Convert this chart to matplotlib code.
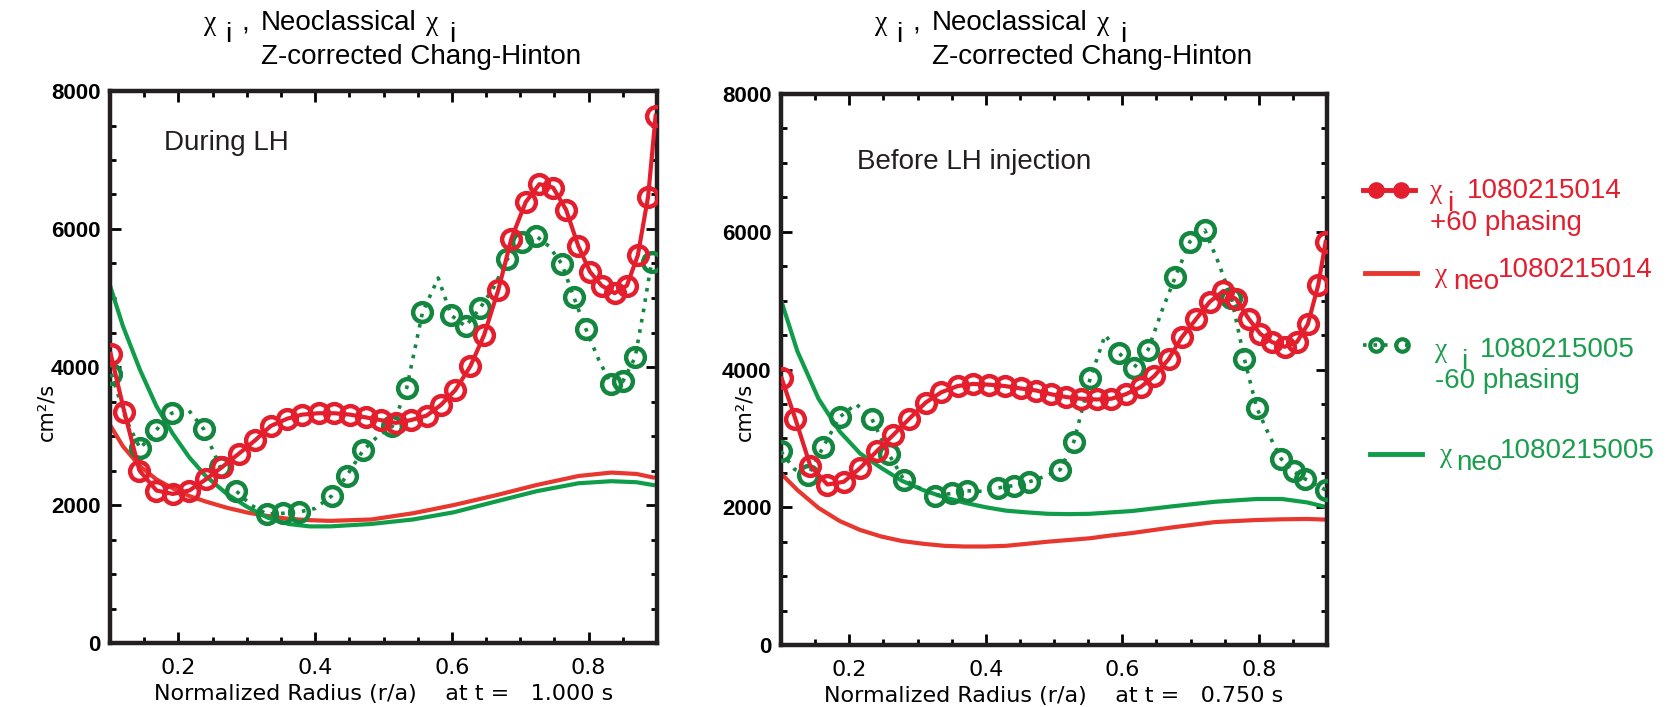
import numpy as np
import matplotlib
matplotlib.use("Agg")
import matplotlib.pyplot as plt
from matplotlib.ticker import MultipleLocator

plt.rcParams['font.family'] = ['Liberation Sans', 'DejaVu Sans']

RED = '#e41e2c'
RED_NEO = '#e8372f'
GRN = '#13873f'
GRN_NEO = '#0f9d4a'

# radial grid of the measured chi_i profiles
r_grid = [0.101, 0.121, 0.143, 0.168, 0.192, 0.216, 0.240, 0.264, 0.288, 0.312,
          0.335, 0.359, 0.381, 0.405, 0.428, 0.451, 0.474, 0.496, 0.518, 0.540,
          0.563, 0.584, 0.605, 0.627, 0.647, 0.668, 0.687, 0.708, 0.728, 0.748,
          0.767, 0.785, 0.802, 0.819, 0.838, 0.856, 0.872, 0.887, 0.898]

# ---- t = 1.000 s (during LH) ----
chi_014_a = [4190, 3350, 2500, 2210, 2160, 2210, 2370, 2550, 2740, 2935,
             3145, 3250, 3310, 3330, 3330, 3310, 3270, 3230, 3190, 3230,
             3295, 3450, 3665, 4010, 4460, 5120, 5860, 6390, 6650, 6600,
             6280, 5750, 5380, 5180, 5070, 5180, 5620, 6470, 7640]

r_005_a = [0.102, 0.123, 0.144, 0.167, 0.190, 0.213, 0.237, 0.261, 0.284, 0.306,
           0.329, 0.353, 0.377, 0.400, 0.424, 0.446, 0.470, 0.492, 0.513, 0.534,
           0.557, 0.580, 0.599, 0.620, 0.641, 0.661, 0.681, 0.702, 0.723, 0.742,
           0.761, 0.778, 0.796, 0.815, 0.833, 0.850, 0.868, 0.880, 0.892]
chi_005_a = [3900, 3250, 2820, 3080, 3330, 3400, 3100, 2550, 2210, 2000,
             1870, 1880, 1900, 1950, 2130, 2420, 2790, 3000, 3140, 3700,
             4790, 5290, 4750, 4590, 4850, 5150, 5560, 5810, 5900, 5750,
             5490, 5020, 4550, 4100, 3750, 3790, 4140, 4800, 5520]

r_neo_a = [0.100, 0.119, 0.144, 0.168, 0.192, 0.216, 0.240, 0.271, 0.301, 0.331,
           0.361, 0.392, 0.422, 0.482, 0.543, 0.603, 0.664, 0.724, 0.785, 0.833,
           0.870, 0.894]
neo_014_a = [3160, 2850, 2560, 2370, 2240, 2130, 2050, 1960, 1890, 1840,
             1800, 1780, 1770, 1790, 1880, 2000, 2140, 2290, 2420, 2470,
             2450, 2400]
neo_005_a = [5180, 4590, 3955, 3430, 3030, 2690, 2420, 2160, 1970, 1815,
             1725, 1690, 1690, 1725, 1790, 1895, 2050, 2200, 2315, 2345,
             2330, 2290]

# ---- t = 0.750 s (before LH) ----
chi_014_b = [3870, 3285, 2600, 2330, 2370, 2570, 2810, 3045, 3285, 3520,
             3670, 3760, 3790, 3780, 3760, 3725, 3695, 3640, 3600, 3575,
             3565, 3575, 3640, 3745, 3905, 4150, 4465, 4730, 4980, 5140,
             5020, 4740, 4520, 4400, 4330, 4400, 4660, 5220, 5850]

r_005_b = [0.100, 0.120, 0.140, 0.162, 0.186, 0.210, 0.233, 0.258, 0.280, 0.303,
           0.326, 0.350, 0.372, 0.395, 0.418, 0.441, 0.464, 0.487, 0.509, 0.529,
           0.553, 0.575, 0.595, 0.617, 0.638, 0.658, 0.678, 0.699, 0.721, 0.741,
           0.760, 0.779, 0.797, 0.815, 0.833, 0.851, 0.868, 0.884, 0.898]
chi_005_b = [2810, 2550, 2465, 2880, 3310, 3500, 3285, 2770, 2400, 2280,
             2170, 2200, 2240, 2230, 2280, 2315, 2370, 2450, 2545, 2950,
             3870, 4500, 4240, 4025, 4290, 4850, 5350, 5855, 6025, 5550,
             5035, 4150, 3445, 3050, 2700, 2520, 2410, 2330, 2250]

r_neo_b = [0.100, 0.124, 0.155, 0.186, 0.216, 0.247, 0.277, 0.308, 0.339, 0.369,
           0.400, 0.430, 0.461, 0.491, 0.522, 0.553, 0.583, 0.614, 0.675, 0.736,
           0.797, 0.834, 0.871, 0.900]
neo_014_b = [2490, 2250, 1990, 1800, 1670, 1575, 1510, 1470, 1440, 1430,
             1430, 1440, 1470, 1500, 1525, 1550, 1590, 1625, 1710, 1785,
             1815, 1825, 1830, 1820]
neo_005_b = [5010, 4265, 3575, 3100, 2780, 2570, 2385, 2250, 2145, 2065,
             2000, 1950, 1925, 1905, 1900, 1905, 1925, 1945, 2015, 2080,
             2120, 2120, 2070, 2000]

xlabels = ['Normalized Radius (r/a)    at t =   1.000 s',
           'Normalized Radius (r/a)    at t =   0.750 s']
notes = ['During LH', 'Before LH injection']

W, H = 1668, 707
fig = plt.figure(figsize=(W / 100, H / 100), dpi=100)

# axes boxes in pixels: left, top, right, bottom
boxes = [(110, 91, 657, 643), (781, 94, 1327, 645)]
axes = []
for (l, t, r, b) in boxes:
    axes.append(fig.add_axes([l / W, 1 - b / H, (r - l) / W, (b - t) / H]))

# keep every point but every fourth one marked, as in the original plot
marked = [i for i in range(len(r_grid)) if i % 4 != 1]

panels = [
    (chi_014_a, r_005_a, chi_005_a, r_neo_a, neo_014_a, neo_005_a),
    (chi_014_b, r_005_b, chi_005_b, r_neo_b, neo_014_b, neo_005_b),
]

for k, ax in enumerate(axes):
    chi14, r05, chi05, rn, n14, n05 = panels[k]
    ax.plot(rn, n14, '-', color=RED_NEO, lw=3, zorder=2)
    ax.plot(rn, n05, '-', color=GRN_NEO, lw=3, zorder=2)
    ax.plot(r05, chi05, color=GRN, lw=2.6, ls=(0, (1.0, 1.9)),
            marker='o', ms=13.5, mfc='none', mec=GRN, mew=3.2,
            markevery=marked, zorder=3)
    ax.plot(r_grid, chi14, '-', color=RED, lw=3, marker='o', ms=13.5,
            mfc='none', mec=RED, mew=3.2, zorder=4)

    ax.set_xlim(0.1, 0.9)
    ax.set_ylim(0, 8000)
    ax.xaxis.set_minor_locator(MultipleLocator(0.05))
    ax.yaxis.set_minor_locator(MultipleLocator(500))
    ax.set_xticks([0.2, 0.4, 0.6, 0.8])
    ax.set_xticklabels(['0.2', '0.4', '0.6', '0.8'], family='DejaVu Sans', fontsize=16)
    ax.set_yticks([0, 2000, 4000, 6000, 8000])
    ax.set_yticklabels(['0', '2000', '4000', '6000', '8000'], fontsize=16, fontweight='bold')
    ax.tick_params(which='both', direction='in', top=True, right=True, width=2)
    ax.tick_params(which='major', length=8)
    ax.tick_params(which='minor', length=4)
    ax.tick_params(axis='x', pad=11)
    ax.tick_params(axis='y', pad=7)
    for s in ax.spines.values():
        s.set_linewidth(3.2)
        s.set_color('#231f20')
    ax.set_xlabel(xlabels[k], family='DejaVu Sans', fontsize=16, labelpad=4)

# right-hand ticks of the second panel come out red
for tk in axes[1].yaxis.get_major_ticks() + axes[1].yaxis.get_minor_ticks():
    tk.tick2line.set_color(RED)

# overlay in pixel units for titles, notes and the legend
ov = fig.add_axes([0, 0, 1, 1])
ov.set_xlim(0, W)
ov.set_ylim(H, 0)
ov.axis('off')

FS = 20
for k, (l, t, r, b) in enumerate(boxes):
    x0 = l + 151
    ov.text(x0 - 57, 30, 'χ', family='Liberation Serif', fontsize=FS, va='baseline')
    ov.text(x0 - 36, 42, 'i', fontsize=FS, va='baseline')
    ov.text(x0 - 20, 30, ',', fontsize=FS, va='baseline')
    ov.text(x0, 30, 'Neoclassical', fontsize=FS, va='baseline')
    ov.text(x0 + 165, 30, 'χ', family='Liberation Serif', fontsize=FS, va='baseline')
    ov.text(x0 + 188, 42, 'i', fontsize=FS, va='baseline')
    ov.text(x0, 64, 'Z-corrected Chang-Hinton', fontsize=FS, va='baseline')

ov.text(46, 412, 'cm²/s', family='DejaVu Sans', fontsize=15,
        rotation=90, ha='center', va='center')
ov.text(744, 412, 'cm²/s', family='DejaVu Sans', fontsize=15,
        rotation=90, ha='center', va='center')

ov.text(164, 150, notes[0], fontsize=FS, va='baseline', color='#231f20')
ov.text(857, 169, notes[1], fontsize=FS, va='baseline', color='#231f20')

# legend
LR = '#e31f2f'
LG = '#1a9e4d'
ov.plot([1363, 1415], [190, 190], '-', color=RED, lw=3.5)
ov.plot([1376, 1401], [190, 190], 'o', color=RED, ms=11)
ov.text(1430, 198, 'χ', family='Liberation Serif', fontsize=FS, color=LR, va='baseline')
ov.text(1447, 211, 'i', fontsize=FS, color=LR, va='baseline')
ov.text(1467, 198, '1080215014', fontsize=FS, color=LR, va='baseline')
ov.text(1430, 230, '+60 phasing', fontsize=FS, color=LR, va='baseline')

ov.plot([1365, 1417], [273, 273], '-', color=RED_NEO, lw=3.5)
ov.text(1435, 282, 'χ', family='Liberation Serif', fontsize=FS, color=LR, va='baseline')
ov.text(1453, 289, 'neo', fontsize=FS, color=LR, va='baseline')
ov.text(1498, 277, '1080215014', fontsize=FS, color=LR, va='baseline')

ov.plot([1363, 1412], [345, 345], color=GRN, lw=2.6, ls=(0, (1.0, 1.9)))
ov.plot([1376, 1402], [345, 345], 'o', mfc='none', mec=GRN, mew=3, ms=9)
ov.text(1435, 357, 'χ', family='Liberation Serif', fontsize=FS, color=LG, va='baseline')
ov.text(1461, 369, 'i', fontsize=FS, color=LG, va='baseline')
ov.text(1480, 357, '1080215005', fontsize=FS, color=LG, va='baseline')
ov.text(1435, 388, '-60 phasing', fontsize=FS, color=LG, va='baseline')

ov.plot([1370, 1422], [454, 454], '-', color=GRN_NEO, lw=3.5)
ov.text(1440, 462, 'χ', family='Liberation Serif', fontsize=FS, color=LG, va='baseline')
ov.text(1456, 470, 'neo', fontsize=FS, color=LG, va='baseline')
ov.text(1500, 458, '1080215005', fontsize=FS, color=LG, va='baseline')

fig.savefig('out.png', dpi=100)
